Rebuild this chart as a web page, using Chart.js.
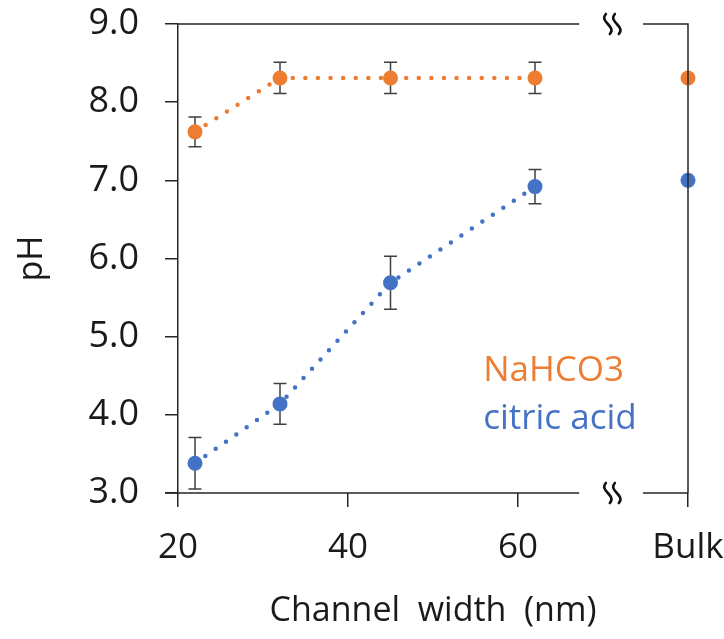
<!DOCTYPE html>
<html>
<head>
<meta charset="utf-8">
<script src="https://cdn.jsdelivr.net/npm/chart.js@4.4.1/dist/chart.umd.min.js"></script>
<style>
  html, body { margin: 0; padding: 0; background: #fff; }
  #wrap { width: 724px; height: 639px; position: relative; }
</style>
</head>
<body>
<div id="wrap"><canvas id="chart"></canvas></div>
<script>
// channel widths (nm) and the position used for the "Bulk" column
const widths = [22, 32, 45, 62];
const bulkX = 80;
const xTickValues = [20, 40, 60, 80];
const xTickLabels = ["20", "40", "60", "Bulk"];

// pH values
const nahco3 = [7.62, 8.31, 8.31, 8.31];
const nahco3Err = [0.19, 0.2, 0.2, 0.2];
const nahco3Bulk = 8.31;

const citric = [3.38, 4.14, 5.69, 6.92];
const citricErr = [0.33, 0.26, 0.34, 0.22];
const citricBulk = 7.0;

const seriesNames = ["NaHCO3", "citric acid"];
const orange = "#ED7D31";
const blue = "#4472C4";
const axisColor = "#262626";

const pts = (xs, ys) => xs.map((x, i) => ({ x: x, y: ys[i] }));

// error bars, drawn under the markers
const errorBars = {
  id: "errorBars",
  beforeDatasetsDraw(chart) {
    const ctx = chart.ctx;
    const ys = chart.scales.y;
    ctx.save();
    ctx.strokeStyle = "#404040";
    ctx.lineWidth = 1.5;
    chart.data.datasets.forEach((ds, di) => {
      if (!ds.errors) return;
      chart.getDatasetMeta(di).data.forEach((pt, i) => {
        const v = ds.data[i].y;
        const e = ds.errors[i];
        const top = ys.getPixelForValue(v + e);
        const bot = ys.getPixelForValue(v - e);
        ctx.beginPath();
        ctx.moveTo(pt.x, top); ctx.lineTo(pt.x, bot);
        ctx.moveTo(pt.x - 6.5, top); ctx.lineTo(pt.x + 6.5, top);
        ctx.moveTo(pt.x - 6.5, bot); ctx.lineTo(pt.x + 6.5, bot);
        ctx.stroke();
      });
    });
    ctx.restore();
  }
};

// frame with the axis break, the break marks and the in-plot labels
const frame = {
  id: "frame",
  afterDraw(chart) {
    const ctx = chart.ctx;
    const xs = chart.scales.x;
    const a = chart.chartArea;
    const cut = xs.getPixelForValue(67.2);
    const resume = xs.getPixelForValue(74.7);
    ctx.save();
    ctx.strokeStyle = axisColor;
    ctx.lineWidth = 1.5;
    ctx.beginPath();
    ctx.moveTo(a.left, a.top); ctx.lineTo(cut, a.top);
    ctx.moveTo(resume, a.top); ctx.lineTo(a.right, a.top);
    ctx.lineTo(a.right, a.bottom);
    ctx.moveTo(a.left - 13, a.bottom); ctx.lineTo(cut, a.bottom);
    ctx.moveTo(resume, a.bottom); ctx.lineTo(a.right, a.bottom);
    ctx.stroke();

    // wavy break marks
    const mid = xs.getPixelForValue(71.1);
    ctx.strokeStyle = "#111";
    ctx.lineWidth = 2.6;
    ctx.lineCap = "round";
    [a.top, a.bottom].forEach(cy => {
      [-4.5, 4.5].forEach(dx => {
        const x = mid + dx;
        ctx.beginPath();
        ctx.moveTo(x - 2, cy - 10);
        ctx.bezierCurveTo(x - 9, cy - 2, x + 9, cy + 2, x + 2, cy + 10);
        ctx.stroke();
      });
    });

    // series labels inside the plot
    ctx.font = "35px 'Open Sans'";
    ctx.textAlign = "left";
    ctx.textBaseline = "alphabetic";
    ctx.fillStyle = orange;
    ctx.fillText(seriesNames[0], xs.getPixelForValue(55.9), 381);
    ctx.fillStyle = blue;
    ctx.fillText(seriesNames[1], xs.getPixelForValue(55.9), 429);
    ctx.restore();
  }
};

const lineStyle = {
  showLine: true,
  borderWidth: 4.5,
  borderDash: [0, 12.6],
  borderCapStyle: "round",
  pointRadius: 7.5,
  pointBorderWidth: 0,
  clip: false
};

document.fonts.load("35px 'Open Sans'").finally(() => {
  new Chart(document.getElementById("chart"), {
    type: "scatter",
    data: {
      datasets: [
        Object.assign({
          label: seriesNames[0],
          data: pts(widths, nahco3),
          errors: nahco3Err,
          borderColor: orange,
          backgroundColor: orange,
          pointBackgroundColor: orange
        }, lineStyle),
        Object.assign({
          label: seriesNames[1],
          data: pts(widths, citric),
          errors: citricErr,
          borderColor: blue,
          backgroundColor: blue,
          pointBackgroundColor: blue
        }, lineStyle),
        {
          label: seriesNames[0] + " bulk",
          data: [{ x: bulkX, y: nahco3Bulk }],
          showLine: false,
          pointRadius: 7.5,
          pointBorderWidth: 0,
          backgroundColor: orange,
          clip: false
        },
        {
          label: seriesNames[1] + " bulk",
          data: [{ x: bulkX, y: citricBulk }],
          showLine: false,
          pointRadius: 7.5,
          pointBorderWidth: 0,
          backgroundColor: blue,
          clip: false
        }
      ]
    },
    options: {
      responsive: true,
      maintainAspectRatio: false,
      animation: false,
      layout: { padding: { left: 0, right: 36, top: 24, bottom: 0 } },
      plugins: {
        legend: { display: false },
        tooltip: { enabled: false }
      },
      scales: {
        x: {
          type: "linear",
          min: 20,
          max: 80,
          afterFit: s => { s.height = 146; s.paddingLeft = 0; s.paddingRight = 0; },
          afterBuildTicks: s => { s.ticks = xTickValues.map(v => ({ value: v })); },
          border: { display: false },
          grid: { drawOnChartArea: false, drawTicks: true, tickLength: 14, color: axisColor, lineWidth: 1.5 },
          ticks: {
            padding: 20,
            color: "#1a1a1a",
            font: { family: "'Open Sans'", size: 35 },
            maxRotation: 0,
            callback: v => xTickLabels[xTickValues.indexOf(v)]
          },
          title: {
            display: true,
            text: "Channel  width  (nm)",
            color: "#1a1a1a",
            font: { family: "'Open Sans'", size: 34 },
            padding: { top: 0, bottom: 7 }
          }
        },
        y: {
          min: 3,
          max: 9,
          afterFit: s => { s.width = 178; s.paddingTop = 0; s.paddingBottom = 0; },
          border: { display: true, color: axisColor, width: 1.5 },
          grid: { drawOnChartArea: false, drawTicks: true, tickLength: 13, color: axisColor, lineWidth: 1.5 },
          ticks: {
            stepSize: 1,
            padding: 26,
            color: "#1a1a1a",
            font: { family: "'Open Sans'", size: 36 },
            callback: v => v.toFixed(1)
          },
          title: {
            display: true,
            text: "pH",
            color: "#1a1a1a",
            font: { family: "'Open Sans'", size: 34 },
            padding: { top: 12, bottom: 0 }
          }
        }
      }
    },
    plugins: [errorBars, frame]
  });
});
</script>
</body>
</html>
